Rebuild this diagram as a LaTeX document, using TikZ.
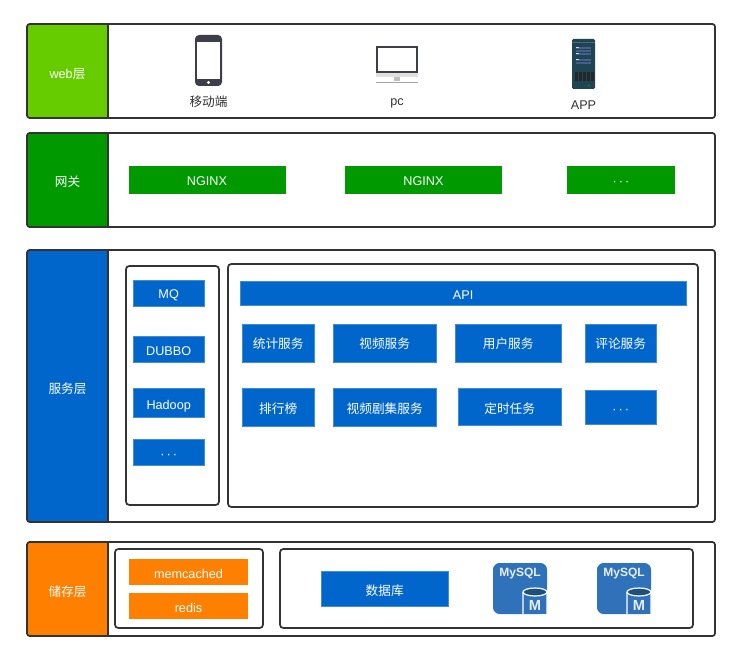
\documentclass[tikz,border=0pt]{standalone}
\usepackage{fontspec}
\setmainfont{Liberation Sans}
\newfontfamily\cjk{Noto Sans CJK SC}
\definecolor{webgreen}{HTML}{66CC00}
\definecolor{gategreen}{HTML}{009900}
\definecolor{serviceblue}{HTML}{0066CC}
\definecolor{storeorange}{HTML}{FF8000}
\definecolor{edgedark}{HTML}{333333}
\definecolor{mysqlblue}{HTML}{2F72BA}
\definecolor{mysqldark}{HTML}{1F4E80}
\definecolor{phonegray}{HTML}{3D3E4A}
\definecolor{serverteal}{HTML}{1F4454}
\tikzset{
    layerbox/.style={draw=edgedark, line width=1.3pt, rounded corners=2pt},
    textbase/.style={text height=9pt, text depth=0pt, inner sep=0pt, font=\fontsize{9.5}{11}\selectfont},
    layerlabel/.style={textbase, text=white},
    groupbox/.style={draw=edgedark, line width=1.3pt, rounded corners=2.5pt},
    bluebox/.style={textbase, draw=serviceblue!75!white, line width=0.5pt, fill=serviceblue, text=white},
    greenbox/.style={textbase, fill=gategreen, text=white},
    orangebox/.style={textbase, fill=storeorange, text=white},
    iconlabel/.style={textbase, text=edgedark},
}
% mysql icon, #1 #2 = top left corner
\newcommand{\mysqlicon}[3]{
    \fill [mysqlblue, rounded corners=5pt] (#1, #2) rectangle ++(54, 51);
    \node (#3title) at (#1+27, #2+11) [text=white!88!mysqlblue, inner sep=0pt, font=\bfseries\fontsize{9}{10}\selectfont] {MySQL};
    \fill [mysqlblue] (#1+31, #2+24) rectangle (#1+54, #2+51);
    \fill [mysqldark] (#1+42, #2+29) ellipse [x radius=11, y radius=3.5];
    \draw [white, line width=0.9pt] (#1+30, #2+51) -- (#1+30, #2+29) arc [start angle=180, end angle=0, x radius=12, y radius=-4] -- (#1+54, #2+51);
    \draw [white, line width=0.9pt] (#1+30, #2+29) arc [start angle=180, end angle=360, x radius=12, y radius=-4];
    \node (#3m) at (#1+42, #2+42) [text=white!88!mysqlblue, inner sep=0pt, font=\bfseries\fontsize{11}{12}\selectfont] {M};
}
\newcommand{\hdots}{·\,·\,·}
\begin{document}
\begin{tikzpicture}[x=0.75pt, y=-0.75pt]
    \useasboundingbox (0, 0) rectangle (736, 656);
    \fill [white] (0, 0) rectangle (736, 656);

    % layers
    \fill [webgreen, rounded corners=2pt] (27, 24) rectangle (108, 118);
    \fill [gategreen, rounded corners=2pt] (27, 133) rectangle (108, 227);
    \fill [serviceblue, rounded corners=2pt] (27, 250) rectangle (108, 522);
    \fill [storeorange, rounded corners=2pt] (27, 542) rectangle (108, 636);
    \draw [edgedark, line width=0.9pt] (108, 24) -- (108, 118) (108, 133) -- (108, 227) (108, 250) -- (108, 522) (108, 542) -- (108, 636);
    \draw [layerbox] (27, 24) rectangle (715, 118);
    \draw [layerbox] (27, 133) rectangle (715, 227);
    \draw [layerbox] (27, 250) rectangle (715, 522);
    \draw [layerbox] (27, 542) rectangle (715, 636);

    \node (web) at (67.5, 73) [layerlabel] {web{\cjk 层}};
    \node (gateway) at (67.5, 181) [layerlabel] {\cjk 网关};
    \node (service) at (67.5, 387) [layerlabel] {\cjk 服务层};
    \node (store) at (67.5, 590) [layerlabel] {\cjk 储存层};

    % web icons
    \fill [phonegray, rounded corners=3pt] (195, 35) rectangle (222, 86);
    \fill [white] (197, 42) rectangle (220, 79);
    \fill [white] (208.5, 82.5) circle [radius=1.6];
    \fill [phonegray] (376, 46) rectangle (418, 73);
    \fill [white] (378, 48) rectangle (416, 71);
    \fill [black!12] (376, 73) rectangle (418, 77);
    \fill [black!25] (394, 77) rectangle (400, 81);
    \draw [black!35, line width=0.5pt] (376, 82) -- (418, 82);
    \fill [serverteal, rounded corners=1pt] (572, 39) rectangle (595, 89);
    \fill [white!20!serverteal] (572, 42) rectangle (595, 43);
    \foreach \y in {47, 50, 53, 59, 62}
        \fill [cyan!45!blue!60!black] (576, \y) rectangle (591, \y+1.8);
    \foreach \y in {47, 53, 59}
        \fill [white!85!black] (576, \y+0.3) rectangle (579, \y+1.5);
    \foreach \x in {575, 579, 583, 587, 591}
        \fill [black!85] (\x, 72) rectangle (\x+2.5, 81);
    \fill [green!60!black] (588, 85) rectangle (589.5, 86.5);
    \fill [red!70!black] (592, 85) rectangle (593.5, 86.5);

    \node (mobile) at (208.5, 101) [iconlabel] {\cjk 移动端};
    \node (pc) at (397, 100) [iconlabel] {pc};
    \node (app) at (583.5, 104) [iconlabel] {APP};

    % gateway
    \node (nginx1) at (207, 180) [greenbox, minimum width=157*0.75pt, minimum height=28*0.75pt] {NGINX};
    \node (nginx2) at (423.5, 180) [greenbox, minimum width=157*0.75pt, minimum height=28*0.75pt] {NGINX};
    \node (nginx3) at (621, 180) [greenbox, minimum width=108*0.75pt, minimum height=28*0.75pt] {\hdots};

    % service
    \draw [groupbox] (126, 266) rectangle (219, 505);
    \draw [groupbox] (228, 264) rectangle (698, 507);

    \node (mq) at (168.7, 293) [bluebox, minimum width=71*0.75pt, minimum height=26*0.75pt] {MQ};
    \node (dubbo) at (168.7, 349) [bluebox, minimum width=71*0.75pt, minimum height=26*0.75pt] {DUBBO};
    \node (hadoop) at (168.7, 403) [bluebox, minimum width=71*0.75pt, minimum height=29*0.75pt] {Hadoop};
    \node (more1) at (168.7, 452.5) [bluebox, minimum width=71*0.75pt, minimum height=26*0.75pt] {\hdots};

    \node (api) at (463.2, 293.2) [bluebox, minimum width=446*0.75pt, minimum height=24*0.75pt] {API};

    \node (stat) at (278.2, 343) [bluebox, minimum width=72*0.75pt, minimum height=38*0.75pt] {\cjk 统计服务};
    \node (video) at (384.7, 343) [bluebox, minimum width=103*0.75pt, minimum height=38*0.75pt] {\cjk 视频服务};
    \node (user) at (508.2, 343) [bluebox, minimum width=106*0.75pt, minimum height=38*0.75pt] {\cjk 用户服务};
    \node (comment) at (620.7, 343) [bluebox, minimum width=71*0.75pt, minimum height=38*0.75pt] {\cjk 评论服务};

    \node (rank) at (278.2, 407.2) [bluebox, minimum width=72*0.75pt, minimum height=38*0.75pt] {\cjk 排行榜};
    \node (series) at (384.7, 407.2) [bluebox, minimum width=103*0.75pt, minimum height=38*0.75pt] {\cjk 视频剧集服务};
    \node (timer) at (509.7, 407.2) [bluebox, minimum width=103*0.75pt, minimum height=37*0.75pt] {\cjk 定时任务};
    \node (more2) at (620.7, 407.2) [bluebox, minimum width=71*0.75pt, minimum height=34*0.75pt] {\hdots};

    % store
    \draw [groupbox] (115, 549) rectangle (263, 628);
    \draw [groupbox] (280, 549) rectangle (693, 628);

    \node (memcached) at (188.5, 572) [orangebox, minimum width=119*0.75pt, minimum height=26*0.75pt] {memcached};
    \node (redis) at (188.5, 606) [orangebox, minimum width=119*0.75pt, minimum height=26*0.75pt] {redis};
    \node (database) at (384.7, 589) [bluebox, minimum width=127*0.75pt, minimum height=35*0.75pt] {\cjk 数据库};

    \mysqlicon{493}{563}{mysqla}
    \mysqlicon{597}{563}{mysqlb}
\end{tikzpicture}
\end{document}
